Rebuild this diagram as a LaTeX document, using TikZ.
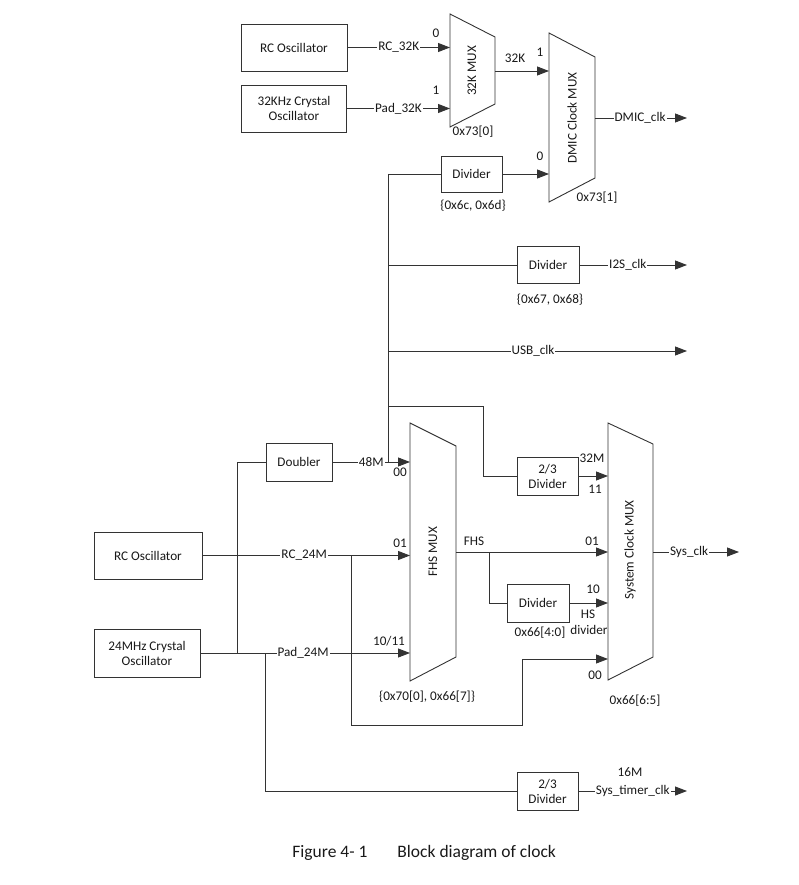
\documentclass[tikz,border=0pt]{standalone}
\usepackage{fontspec}
\setmainfont{Carlito}
\usetikzlibrary{arrows.meta}
\begin{document}
\begin{tikzpicture}[x=1pt,y=-1pt, color=black!80,
  every node/.style={font=\fontsize{13.2}{15}\selectfont, text=black!90},
  every path/.style={line width=0.9pt},
  box/.style={draw, align=center, inner sep=0pt, fill=white},
  lbl/.style={fill=white, inner sep=1pt},
  txt/.style={inner sep=0pt},
  arr/.style={-{Triangle[length=12pt,width=9pt]}},
  muxshape/.style={draw, line width=0.9pt}]
\path[use as bounding box] (0,0) rectangle (798,885);

% ---- boxes
\node[box, minimum width=106pt, minimum height=47pt] (rc32) at (294,47.5) {RC Oscillator};
\node[box, minimum width=105pt, minimum height=47pt] (xt32) at (294,108.5) {32KHz Crystal\\Oscillator};
\node[box, minimum width=61pt, minimum height=36pt] (divd) at (471.5,174) {Divider};
\node[box, minimum width=62pt, minimum height=37pt] (divi) at (548,265) {Divider};
\node[box, minimum width=66pt, minimum height=38pt] (dbl) at (299,462) {Doubler};
\node[box, minimum width=61pt, minimum height=38pt] (diva) at (547.5,476) {2/3\\Divider};
\node[box, minimum width=62pt, minimum height=38pt] (divhs) at (538,603) {Divider};
\node[box, minimum width=108pt, minimum height=47pt] (rc24) at (148,555.5) {RC Oscillator};
\node[box, minimum width=106pt, minimum height=48pt] (xt24) at (147,653) {24MHz Crystal\\Oscillator};
\node[box, minimum width=61pt, minimum height=38pt] (divb) at (547.5,791) {2/3\\Divider};

% ---- muxes
\draw[muxshape] (450,14) -- (495,37) -- (495,104) -- (450,127) -- cycle;
\draw[muxshape] (549,33) -- (595,57) -- (595,178) -- (549,202) -- cycle;
\draw[muxshape] (410,423) -- (456,446) -- (456,657) -- (410,681) -- cycle;
\draw[muxshape] (608,423) -- (653,444) -- (653,657) -- (608,680) -- cycle;
\node[txt, rotate=90] (m32) at (472,71) {32K MUX};
\node[txt, rotate=90] (mdm) at (572,118) {DMIC Clock MUX};
\node[txt, rotate=90] (mfhs) at (433,552) {FHS MUX};
\node[txt, rotate=90] (msys) at (630,550) {System Clock MUX};

% ---- port coordinates
\coordinate (m32i0) at (450,47.5);
\coordinate (m32i1) at (450,108.5);
\coordinate (m32o) at (495,71);
\coordinate (mdmi1) at (549,71);
\coordinate (mdmi0) at (549,174);
\coordinate (mdmo) at (595,118);
\coordinate (dmicend) at (687,118);
\coordinate (bustop) at (388,174);
\coordinate (busi2s) at (388,265);
\coordinate (i2send) at (687,265);
\coordinate (bususb) at (388,351);
\coordinate (usbend) at (687,351);
\coordinate (bus32) at (388,406);
\coordinate (k1) at (483,406);
\coordinate (k2) at (483,476);
\coordinate (bus48) at (388,462);
\coordinate (fi00) at (410,462);
\coordinate (fi01) at (410,555.5);
\coordinate (fi10) at (410,653);
\coordinate (fo) at (456,552);
\coordinate (si11) at (608,476);
\coordinate (si01) at (608,552);
\coordinate (si10) at (608,603);
\coordinate (si00) at (608,659);
\coordinate (so) at (653,552);
\coordinate (sysend) at (739,552);
\coordinate (lv1) at (237,462);
\coordinate (lv2) at (237,653);
\coordinate (r1) at (351,555.5);
\coordinate (r2) at (351,725);
\coordinate (r3) at (522,725);
\coordinate (r4) at (522,659);
\coordinate (fb1) at (489,552);
\coordinate (fb2) at (489,603);
\coordinate (t1) at (265,653);
\coordinate (t2) at (265,791);
\coordinate (timend) at (687,791);

% ---- connectors
\draw[arr] (rc32.east) -- node[lbl, pos=0.5] {RC\_32K} (m32i0);
\draw[arr] (xt32.east) -- node[lbl, pos=0.5] {Pad\_32K} (m32i1);
\draw[arr] (m32o) -- (mdmi1);
\draw[arr] (divd.east) -- (mdmi0);
\draw[arr] (mdmo) -- node[lbl, pos=0.49] {DMIC\_clk} (dmicend);
\draw (bustop) -- (bus48);
\draw (bustop) -- (divd.west);
\draw (busi2s) -- (divi.west);
\draw[arr] (divi.east) -- node[lbl, pos=0.45] {I2S\_clk} (i2send);
\draw[arr] (bususb) -- node[lbl, pos=0.485] {USB\_clk} (usbend);
\draw (bus32) -- (k1) -- (k2) -- (diva.west);
\draw[arr] (diva.east) -- (si11);
\draw (lv1) -- (lv2);
\draw (lv1) -- (dbl.west);
\draw[arr] (dbl.east) -- node[lbl, pos=0.5] {48M} (fi00);
\draw[arr] (rc24.east) -- node[lbl, pos=0.49] {RC\_24M} (fi01);
\draw[arr] (xt24.east) -- node[lbl, pos=0.49] {Pad\_24M} (fi10);
\draw[arr] (r1) -- (r2) -- (r3) -- (r4) -- (si00);
\draw[arr] (fo) -- (si01);
\draw (fb1) -- (fb2) -- (divhs.west);
\draw[arr] (divhs.east) -- (si10);
\draw[arr] (so) -- node[lbl, pos=0.42] {Sys\_clk} (sysend);
\draw (t1) -- (t2) -- (divb.west);
\draw[arr] (divb.east) -- node[lbl, pos=0.50] {Sys\_timer\_clk} (timend);

% ---- plain labels
\node[txt] (l1) at (436,33) {0};
\node[txt] (l2) at (436,90) {1};
\node[txt] (l3) at (473,132) {0x73[0]};
\node[txt] (l4) at (515,58) {32K};
\node[txt] (l5) at (540,52) {1};
\node[txt] (l6) at (540,156) {0};
\node[txt] (l7) at (597,198) {0x73[1]};
\node[txt] (l8) at (473,206) {\{0x6c, 0x6d\}};
\node[txt] (l9) at (550,300) {\{0x67, 0x68\}};
\node[txt] (l10) at (400,472) {00};
\node[txt] (l11) at (400,543) {01};
\node[txt] (l12) at (389,641) {10/11};
\node[txt] (l13) at (474,541) {FHS};
\node[txt] (l14) at (427,697) {\{0x70[0], 0x66[7]\}};
\node[txt] (l15) at (592,458) {32M};
\node[txt] (l16) at (595,489) {11};
\node[txt] (l17) at (592,541) {01};
\node[txt] (l18) at (593,589) {10};
\node[txt] (l19) at (588,614) {HS};
\node[txt] (l20) at (589,630) {divider};
\node[txt] (l21) at (595,675) {00};
\node[txt] (l22) at (540,633) {0x66[4:0]};
\node[txt] (l23) at (635,701) {0x66[6:5]};
\node[txt] (l24) at (630,772) {16M};

% ---- caption
\node[txt, anchor=west, font=\fontsize{17.5}{20}\selectfont] (cap1) at (292,853) {Figure 4- 1};
\node[txt, anchor=west, font=\fontsize{17.5}{20}\selectfont] (cap2) at (397,853) {Block diagram of clock};
\end{tikzpicture}
\end{document}
